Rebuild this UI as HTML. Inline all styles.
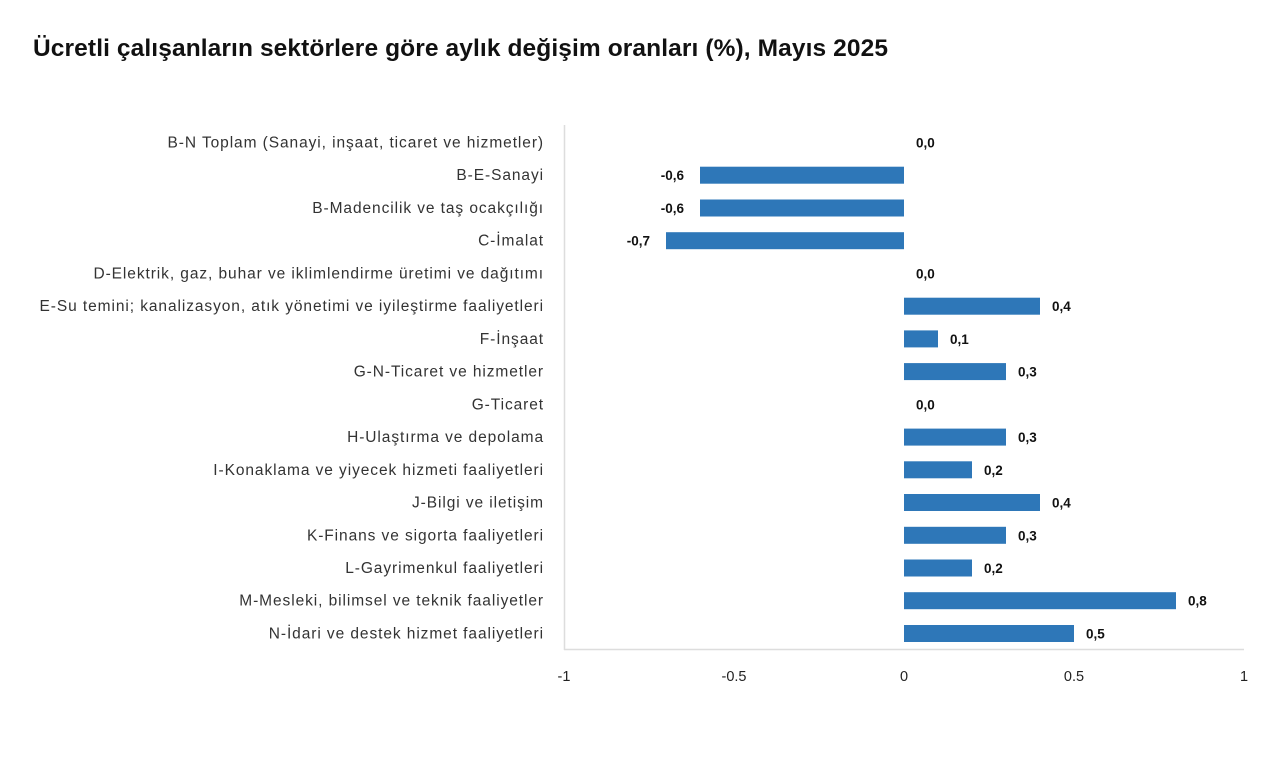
<!DOCTYPE html>
<html><head><meta charset="utf-8"><style>
html,body{margin:0;padding:0;background:#fff;}
svg{display:block;}
text{font-family:"Liberation Sans",sans-serif;}
.l{font-size:15.5px;fill:#333;text-anchor:end;letter-spacing:0.92px;}
.v{font-size:13.5px;font-weight:bold;fill:#111;}
.n{font-size:13.5px;font-weight:bold;fill:#111;text-anchor:end;}
</style></head><body>
<svg width="1280" height="759" xmlns="http://www.w3.org/2000/svg">
<text x="33" y="56" font-size="24.5" font-weight="bold" fill="#111" textLength="855" lengthAdjust="spacing">Ücretli çalışanların sektörlere göre aylık değişim oranları (%), Mayıs 2025</text>
<line x1="564.5" y1="125" x2="564.5" y2="650" stroke="#ddd" stroke-width="1.5"/>
<line x1="564" y1="649.5" x2="1244" y2="649.5" stroke="#ddd" stroke-width="1.5"/>
<g font-size="14.5" fill="#222" text-anchor="middle">
<text x="564" y="681">-1</text><text x="734" y="681">-0.5</text><text x="904" y="681">0</text><text x="1074" y="681">0.5</text><text x="1244" y="681">1</text>
</g>
<g fill="#2e77b8">
<rect x="700" y="166.7" width="204" height="17"/>
<rect x="700" y="199.5" width="204" height="17"/>
<rect x="666" y="232.2" width="238" height="17"/>
<rect x="904" y="297.7" width="136" height="17"/>
<rect x="904" y="330.4" width="34" height="17"/>
<rect x="904" y="363.1" width="102" height="17"/>
<rect x="904" y="428.6" width="102" height="17"/>
<rect x="904" y="461.3" width="68" height="17"/>
<rect x="904" y="494" width="136" height="17"/>
<rect x="904" y="526.8" width="102" height="17"/>
<rect x="904" y="559.5" width="68" height="17"/>
<rect x="904" y="592.2" width="272" height="17"/>
<rect x="904" y="625" width="170" height="17"/>
</g>
<text class="l" x="544" y="147.5">B-N Toplam (Sanayi, inşaat, ticaret ve hizmetler)</text>
<text class="l" x="544" y="180.2">B-E-Sanayi</text>
<text class="l" x="544" y="213">B-Madencilik ve taş ocakçılığı</text>
<text class="l" x="544" y="245.7">C-İmalat</text>
<text class="l" x="544" y="278.4">D-Elektrik, gaz, buhar ve iklimlendirme üretimi ve dağıtımı</text>
<text class="l" x="544" y="311.2">E-Su temini; kanalizasyon, atık yönetimi ve iyileştirme faaliyetleri</text>
<text class="l" x="544" y="343.9">F-İnşaat</text>
<text class="l" x="544" y="376.6">G-N-Ticaret ve hizmetler</text>
<text class="l" x="544" y="409.3">G-Ticaret</text>
<text class="l" x="544" y="442.1">H-Ulaştırma ve depolama</text>
<text class="l" x="544" y="474.8">I-Konaklama ve yiyecek hizmeti faaliyetleri</text>
<text class="l" x="544" y="507.5">J-Bilgi ve iletişim</text>
<text class="l" x="544" y="540.3">K-Finans ve sigorta faaliyetleri</text>
<text class="l" x="544" y="573">L-Gayrimenkul faaliyetleri</text>
<text class="l" x="544" y="605.7">M-Mesleki, bilimsel ve teknik faaliyetler</text>
<text class="l" x="544" y="638.5">N-İdari ve destek hizmet faaliyetleri</text>
<text class="v" x="916" y="147.5">0,0</text>
<text class="n" x="684" y="180.2">-0,6</text>
<text class="n" x="684" y="213">-0,6</text>
<text class="n" x="650" y="245.7">-0,7</text>
<text class="v" x="916" y="278.4">0,0</text>
<text class="v" x="1052" y="311.2">0,4</text>
<text class="v" x="950" y="343.9">0,1</text>
<text class="v" x="1018" y="376.6">0,3</text>
<text class="v" x="916" y="409.3">0,0</text>
<text class="v" x="1018" y="442.1">0,3</text>
<text class="v" x="984" y="474.8">0,2</text>
<text class="v" x="1052" y="507.5">0,4</text>
<text class="v" x="1018" y="540.3">0,3</text>
<text class="v" x="984" y="573">0,2</text>
<text class="v" x="1188" y="605.7">0,8</text>
<text class="v" x="1086" y="638.5">0,5</text>
</svg>
</body></html>
